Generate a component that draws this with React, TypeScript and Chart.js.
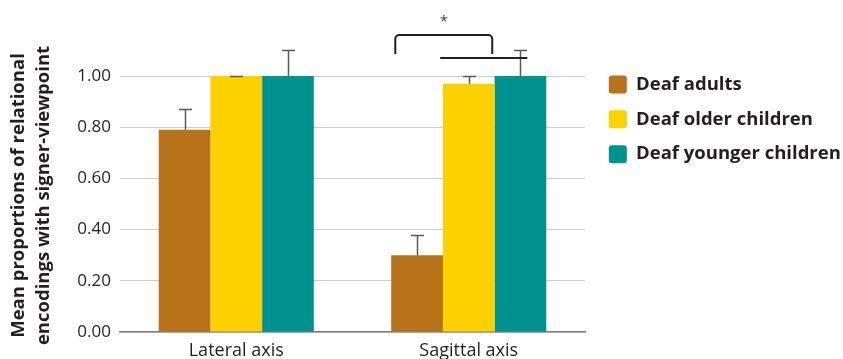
import React, { useEffect, useRef } from "react";
import { Chart, registerables } from "chart.js";

Chart.register(...registerables);

// ---- data ----
const categories = ["Lateral axis", "Sagittal axis"];
const seriesLabels = ["Deaf adults", "Deaf older children", "Deaf younger children"];
const adultsMeans = [0.79, 0.3];
const olderMeans = [1.0, 0.97];
const youngerMeans = [1.0, 1.0];
const adultsErr = [0.08, 0.08];
const olderErr = [0.0, 0.03];
const youngerErr = [0.1, 0.1];
const yTickValues = [0, 0.2, 0.4, 0.6, 0.8, 1.0];
const yTitle = ["Mean proportions of relational", "encodings with signer-viewpoint"];
// significance marks (x in category units, y in value units)
const bracketX = [0.684, 1.101];
const bracketY = [1.16, 1.086];
const sigLineX = [0.877, 1.252];
const sigLineY = [1.07];
const starLabel = "*";
const starY = [1.212];

const colors = ["#B7721A", "#FDD000", "#00928F"];
const FONT = "'Open Sans', 'Noto Sans', sans-serif";
const TEXT = "#231f20";

const errorsBySeries = [adultsErr, olderErr, youngerErr];

const annotationPlugin = {
  id: "errAndSig",
  afterDatasetsDraw(chart: any) {
    const ctx = chart.ctx;
    const ys = chart.scales.y;
    const xs = chart.scales.x;
    ctx.save();
    // error bars
    ctx.strokeStyle = "#58595b";
    ctx.lineWidth = 1.5;
    chart.data.datasets.forEach((ds: any, di: number) => {
      const meta = chart.getDatasetMeta(di);
      const errs = errorsBySeries[di];
      meta.data.forEach((bar: any, i: number) => {
        const v = ds.data[i];
        const x = Math.round(bar.x) + 0.5;
        const y0 = ys.getPixelForValue(v);
        const y1 = Math.round(ys.getPixelForValue(v + errs[i])) + 0.5;
        ctx.beginPath();
        ctx.moveTo(x, y0);
        ctx.lineTo(x, y1);
        ctx.moveTo(x - 6.5, y1);
        ctx.lineTo(x + 6.5, y1);
        ctx.stroke();
      });
    });
    // significance bracket
    ctx.strokeStyle = TEXT;
    ctx.lineWidth = 2;
    const bx0 = xs.getPixelForValue(bracketX[0]);
    const bx1 = xs.getPixelForValue(bracketX[1]);
    const byTop = ys.getPixelForValue(bracketY[0]);
    const byLeg = ys.getPixelForValue(bracketY[1]);
    const r = 4;
    ctx.beginPath();
    ctx.moveTo(bx0, byLeg);
    ctx.arcTo(bx0, byTop, bx0 + r, byTop, r);
    ctx.arcTo(bx1, byTop, bx1, byTop + r, r);
    ctx.lineTo(bx1, byLeg);
    ctx.stroke();
    // second line
    const ly = ys.getPixelForValue(sigLineY[0]);
    ctx.beginPath();
    ctx.moveTo(xs.getPixelForValue(sigLineX[0]), ly);
    ctx.lineTo(xs.getPixelForValue(sigLineX[1]), ly);
    ctx.stroke();
    // star
    ctx.fillStyle = "#444";
    ctx.font = `15px ${FONT}`;
    ctx.textAlign = "center";
    ctx.textBaseline = "middle";
    ctx.fillText(starLabel, (bx0 + bx1) / 2, ys.getPixelForValue(starY[0]));
    ctx.restore();
  },
};

const legendPlacement = {
  id: "legendPlacement",
  afterInit(chart: any) {
    const legend = chart.legend;
    if (!legend) return;
    const fit = legend.fit.bind(legend);
    legend.fit = () => {
      fit();
      legend.width = 258;
    };
  },
  afterLayout(chart: any) {
    const legend = chart.legend;
    if (!legend) return;
    legend.left += 7.5;
    legend.right += 7.5;
  },
};

export default function App() {
  const ref = useRef<HTMLCanvasElement | null>(null);
  useEffect(() => {
    if (!ref.current) return;
    const chart = new Chart(ref.current, {
      type: "bar",
      data: {
        labels: categories,
        datasets: [
          { label: seriesLabels[0], data: adultsMeans, backgroundColor: colors[0], borderWidth: 0 },
          { label: seriesLabels[1], data: olderMeans, backgroundColor: colors[1], borderWidth: 0 },
          { label: seriesLabels[2], data: youngerMeans, backgroundColor: colors[2], borderWidth: 0 },
        ],
      },
      options: {
        responsive: false,
        animation: false,
        devicePixelRatio: 1,
        layout: { padding: { top: 59, left: 0, right: 0, bottom: 0 } },
        datasets: { bar: { barPercentage: 1, categoryPercentage: 0.667 } },
        plugins: {
          tooltip: { enabled: false },
          legend: {
            position: "right",
            align: "start",
            labels: {
              boxWidth: 18,
              boxHeight: 18,
              padding: 16.3,
              useBorderRadius: true,
              borderRadius: 3,
              color: TEXT,
              font: { family: FONT, size: 18.5, weight: "bold" },
            },
          },
        },
        scales: {
          x: {
            grid: { display: false },
            border: { display: true, color: "#808080", width: 1.5 },
            ticks: { color: TEXT, padding: 0, font: { family: FONT, size: 18 } },
            afterFit: (s: any) => {
              s.height = 27;
            },
          },
          y: {
            min: 0,
            max: (332 - 59) / 256,
            afterBuildTicks: (s: any) => {
              s.ticks = yTickValues.map((v) => ({ value: v }));
            },
            afterFit: (s: any) => {
              s.width = 120;
            },
            grid: { color: "#cccccc", lineWidth: 1, drawTicks: false },
            border: { display: false },
            ticks: {
              color: TEXT,
              padding: 9,
              font: { family: FONT, size: 17 },
              callback: (v: any) => Number(v).toFixed(2),
            },
            title: {
              display: true,
              text: yTitle,
              color: TEXT,
              padding: { top: 6, bottom: 0 },
              font: { family: FONT, size: 18.5, weight: "bold", lineHeight: "25px" },
            },
          },
        },
      },
      plugins: [annotationPlugin, legendPlacement],
    } as any);
    return () => chart.destroy();
  }, []);
  return (
    <div style={{ position: "fixed", left: 0, top: 0, width: 843, height: 359, background: "#fff" }}>
      <canvas ref={ref} width={843} height={359} />
    </div>
  );
}
